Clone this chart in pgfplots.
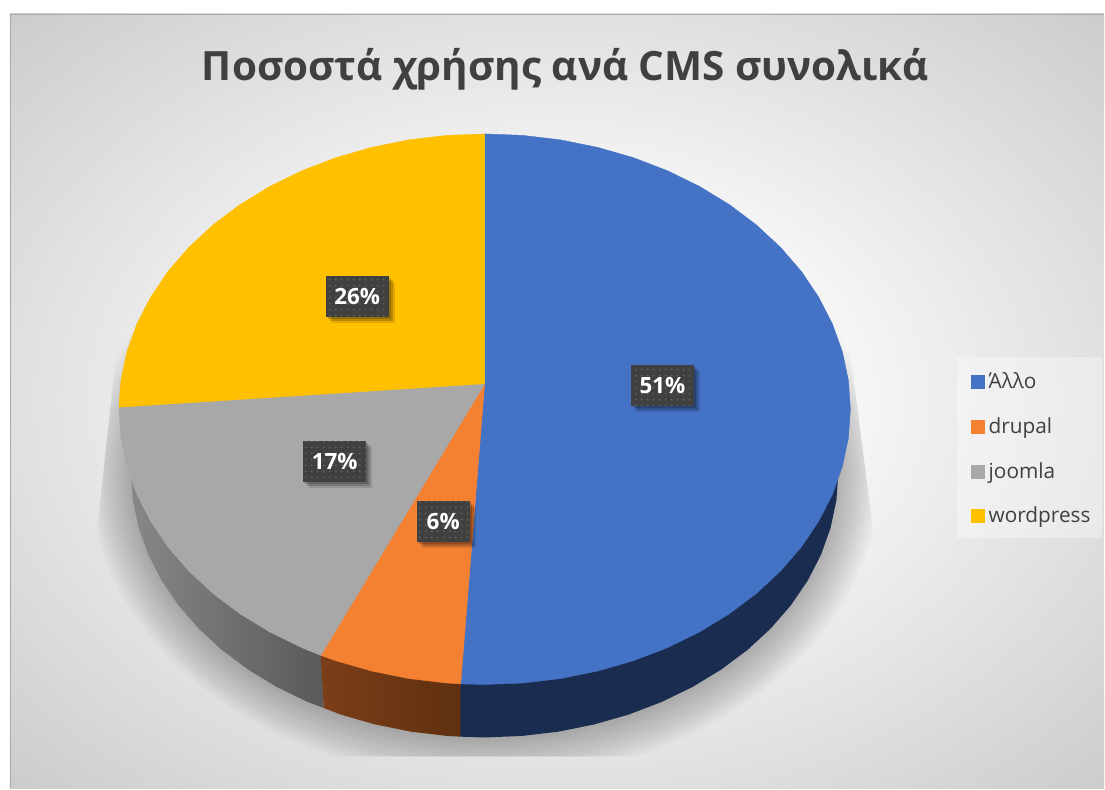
\documentclass[border=0pt]{standalone}
\usepackage{fontspec}
\setmainfont{Open Sans}
\usepackage{pgfplots}
\pgfplotsset{compat=1.18}
\usetikzlibrary{patterns,shadows}

\definecolor{cBlue}{HTML}{4472C4}
\definecolor{cOrange}{HTML}{F48132}
\definecolor{cGray}{HTML}{A8A8A8}
\definecolor{cYellow}{HTML}{FFC000}
\definecolor{cWallBlue}{HTML}{1A2D50}
\definecolor{cText}{HTML}{404040}
\definecolor{cBg}{HTML}{BEBEBE}

\pgfdeclareradialshading{bgrad}{\pgfpoint{0bp}{0bp}}{%
  color(0bp)=(white); color(6bp)=(white); color(30bp)=(cBg); color(50bp)=(cBg)}

\tikzset{
  pct/.style={
    fill=cText, minimum width=31.5pt, minimum height=20.5pt, inner sep=0pt,
    text=white, font=\fontsize{11.2}{13}\selectfont\bfseries,
    drop shadow={shadow xshift=1pt, shadow yshift=-1pt, opacity=.18, fill=black},
    drop shadow={shadow xshift=2pt, shadow yshift=-2pt, opacity=.18, fill=black},
    drop shadow={shadow xshift=3pt, shadow yshift=-3pt, opacity=.12, fill=black},
    postaction={pattern=dots, pattern color=black!62},
  },
}

\begin{document}
\begin{tikzpicture}
% page and background, in reference pixels
\begin{scope}[x=0.5pt,y=-0.5pt]
  \fill[white] (0,0) rectangle (1105,789);
  \begin{scope}
    \clip (10,14) rectangle (1105,789);
    \shade[shading=bgrad] (560,400) ellipse [x radius=780, y radius=550];
  \end{scope}
  \draw[cBg!90!black, line width=0.8pt] (10.5,789) -- (10.5,14.5) -- (1105,14.5);
  % soft shadow under the pie
  \begin{scope}
    \clip (122,300) -- (93,570) -- (93,757) -- (880,757) -- (880,580) -- (848,330) -- cycle;
    \foreach \r in {0,3,...,42}
      \fill[black,opacity=.021] (485,473) ellipse [x radius={354+\r}, y radius={265+\r}];
  \end{scope}
  % legend panel
  \fill[white,opacity=.35] (958,357) rectangle (1103,538);
\end{scope}

\begin{axis}[
    at={(0,0)}, anchor=north west,
    scale only axis,
    x=0.5pt, y=0.5pt, y dir=reverse,
    xmin=0, xmax=1105, ymin=0, ymax=789,
    hide axis, clip=false,
    legend style={
      at={(axis cs:969,354)}, anchor=north west,
      draw=none, fill=none,
      font=\fontsize{10.4}{13}\selectfont, text=cText,
      inner xsep=1pt, inner ysep=6pt, row sep=6.4pt,
      minimum height=16pt,
    },
    legend cell align=left,
    legend image code/.code={\fill[#1,draw=none] (0pt,-3.5pt) rectangle (7pt,3.5pt);},
]

% side walls
\addplot[forget plot, draw=none, left color=cWallBlue, right color=cWallBlue] coordinates {
  (461,737.2) (485,738) (522,736.5) (558.6,732.2) (594.4,725) (629,715.1) (662,702.5)
  (693.1,687.4) (721.9,669.9) (748.1,650.3) (771.4,628.8) (791.6,605.5) (808.4,580.8)
  (821.7,554.9) (831.2,528.1) (837,500.7) (839,473) (839,440) (461,660)
} -- cycle;
\addplot[forget plot, draw=none, left color=black!47, right color=black!65] coordinates {
  (324,708.5) (308,702.5) (276.9,687.4) (248.1,669.9) (221.9,650.3) (198.6,628.8)
  (178.4,605.5) (161.6,580.8) (148.3,554.9) (138.8,528.1) (133,500.7) (131,473)
  (131,440) (320,640)
} -- cycle;
\addplot[forget plot, draw=none, left color={rgb,255:red,124;green,62;blue,24}, right color={rgb,255:red,95;green,48;blue,16}] coordinates {
  (461,737.2) (448,736.5) (411.4,732.2) (375.6,725) (341,715.1) (324,708.5)
  (320,645) (461,670)
} -- cycle;

% top slices
\addplot[fill=cBlue, draw=cBlue, line width=0.2pt] coordinates {
  (485,384) (485,134) (523.2,135.5) (561.1,140) (598.1,147.5) (633.9,157.8) (668,170.9)
  (700.1,186.6) (729.9,204.8) (757,225.2) (781.1,247.6) (802,271.7) (819.3,297.5)
  (833.1,324.4) (843,352.2) (849,380.7) (851,409.5) (849,438.3) (843,466.8) (833.1,494.6)
  (819.3,521.5) (802,547.3) (781.1,571.4) (757,593.8) (729.9,614.2) (700.1,632.4)
  (668,648.1) (633.9,661.2) (598.1,671.5) (561.1,679) (523.2,683.5) (485,685) (461,684.4)
} -- cycle;
\addlegendentry{Άλλο}
\addplot[fill=cOrange, draw=cOrange, line width=0.2pt] coordinates {
  (485,384) (461,684.4) (446.8,683.5) (408.9,679) (371.9,671.5) (336.1,661.2) (321,655.8)
} -- cycle;
\addlegendentry{drupal}
\addplot[fill=cGray, draw=cGray, line width=0.2pt] coordinates {
  (485,384) (321,655.8) (302,648.1) (269.9,632.4) (240.1,614.2) (213,593.8) (188.9,571.4)
  (168,547.3) (150.7,521.5) (136.9,494.6) (127,466.8) (121,438.3) (119,407.5)
} -- cycle;
\addlegendentry{joomla}
\addplot[fill=cYellow, draw=cYellow, line width=0.2pt] coordinates {
  (485,384) (119,407.5) (121,380.7) (127,352.2) (136.9,324.4) (150.7,297.5) (168,271.7)
  (188.9,247.6) (213,225.2) (240.1,204.8) (269.9,186.6) (302,170.9) (336.1,157.8)
  (371.9,147.5) (408.9,140) (446.8,135.5) (485,134)
} -- cycle;
\addlegendentry{wordpress}

% data labels
\node[pct] at (axis cs:663,386) {51\%};
\node[pct, minimum width=26.5pt] at (axis cs:443.5,522) {6\%};
\node[pct] at (axis cs:335,462) {17\%};
\node[pct] at (axis cs:357.5,296.5) {26\%};

% title
\node[text=cText, font=\fontsize{20.2}{24}\selectfont\bfseries, anchor=base] at (axis cs:565.5,81)
  {Ποσοστά χρήσης ανά CMS συνολικά};
\end{axis}
\end{tikzpicture}
\end{document}
